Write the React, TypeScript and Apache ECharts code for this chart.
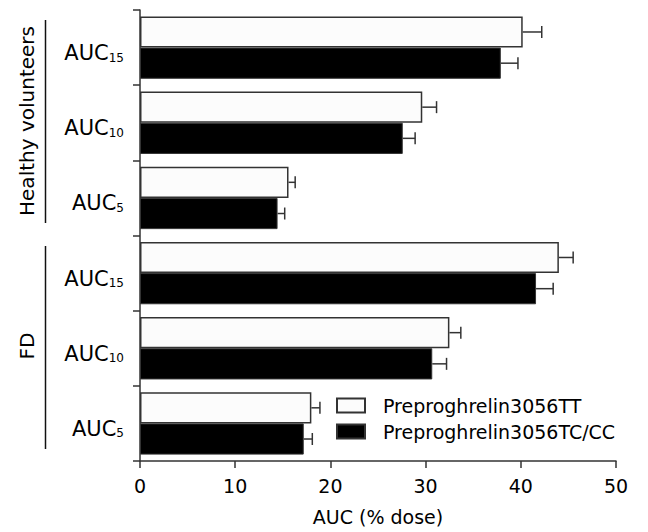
import React, { useEffect, useRef } from "react";
import * as echarts from "echarts";

const categories = ["HV-15", "HV-10", "HV-5", "FD-15", "FD-10", "FD-5"];
const subscripts = ["15", "10", "5", "15", "10", "5"];
const seriesNames = ["Preproghrelin3056TT", "Preproghrelin3056TC/CC"];
const ttValues = [40.2, 29.65, 15.6, 44.0, 32.5, 18.0];
const ttErrors = [2.0, 1.5, 0.7, 1.5, 1.2, 0.9];
const tcValues = [37.9, 27.6, 14.45, 41.6, 30.7, 17.2];
const tcErrors = [1.8, 1.3, 0.75, 1.8, 1.5, 0.9];
const xTicks = { min: 0, max: 50, interval: 10 };
const groupLabels = ["Healthy volunteers", "FD"];

const FONT = "DejaVu Sans";
const GAP = 0.17;

export default function App() {
  const ref = useRef<HTMLDivElement>(null);
  useEffect(() => {
    if (!ref.current) return;
    const chart = echarts.init(ref.current, null, { renderer: "svg" });
    const errData: number[][] = [];
    ttValues.forEach((v, i) => errData.push([v, v + ttErrors[i], i, -1]));
    tcValues.forEach((v, i) => errData.push([v, v + tcErrors[i], i, 1]));

    chart.setOption({
      animation: false,
      textStyle: { fontFamily: FONT, color: "#000" },
      grid: { left: 140, right: 32, top: 10, bottom: 71, containLabel: false },
      legend: {
        data: seriesNames,
        orient: "vertical",
        left: 336,
        top: 396,
        padding: 0,
        itemWidth: 28,
        itemHeight: 14,
        itemGap: 7,
        selectedMode: false,
        icon: "rect",
        textStyle: { fontFamily: FONT, fontSize: 19, color: "#000", padding: [0, 0, 0, 13] },
      },
      xAxis: {
        type: "value",
        min: xTicks.min,
        max: xTicks.max,
        interval: xTicks.interval,
        name: "AUC (% dose)",
        nameLocation: "middle",
        nameGap: 46,
        nameTextStyle: { fontFamily: FONT, fontSize: 19, color: "#000" },
        axisLine: { show: true, lineStyle: { color: "#333", width: 1.5 } },
        axisTick: { show: true, length: 7, lineStyle: { color: "#333", width: 1.5 } },
        axisLabel: { fontFamily: FONT, fontSize: 19, color: "#000", margin: 15 },
        splitLine: { show: false },
      },
      yAxis: {
        type: "category",
        data: categories,
        inverse: true,
        axisLine: { show: true, lineStyle: { color: "#333", width: 1.5 } },
        axisTick: { show: true, length: 7, lineStyle: { color: "#333", width: 1.5 } },
        axisLabel: {
          margin: 16,
          formatter: (_v: string, i: number) => `{m|AUC}{s|${subscripts[i]}}`,
          rich: {
            m: { fontFamily: FONT, fontSize: 21, lineHeight: 32, color: "#000", verticalAlign: "bottom" },
            s: { fontFamily: FONT, fontSize: 12, lineHeight: 12, color: "#000", verticalAlign: "bottom" },
          },
        },
      },
      graphic: [
        {
          type: "text",
          x: 27,
          y: 121,
          rotation: Math.PI / 2,
          style: {
            text: groupLabels[0],
            fontFamily: FONT,
            fontSize: 20,
            fill: "#000",
            textAlign: "center",
            textVerticalAlign: "middle",
          },
        },
        {
          type: "text",
          x: 27,
          y: 346,
          rotation: Math.PI / 2,
          style: {
            text: groupLabels[1],
            fontFamily: FONT,
            fontSize: 20,
            fill: "#000",
            textAlign: "center",
            textVerticalAlign: "middle",
          },
        },
        { type: "line", shape: { x1: 45.5, y1: 20, x2: 45.5, y2: 223 }, style: { stroke: "#111", lineWidth: 1.5 } },
        { type: "line", shape: { x1: 45.5, y1: 246, x2: 45.5, y2: 449 }, style: { stroke: "#111", lineWidth: 1.5 } },
      ],
      series: [
        {
          name: seriesNames[0],
          type: "bar",
          data: ttValues,
          barGap: "0%",
          barCategoryGap: `${GAP * 100}%`,
          itemStyle: { color: "#fcfcfc", borderColor: "#333", borderWidth: 1.5 },
        },
        {
          name: seriesNames[1],
          type: "bar",
          data: tcValues,
          barGap: "0%",
          barCategoryGap: `${GAP * 100}%`,
          itemStyle: { color: "#000", borderColor: "#333", borderWidth: 1 },
        },
        {
          name: "err",
          type: "custom",
          data: errData,
          encode: { x: [0, 1], y: 2 },
          z: 5,
          renderItem: (_p: any, api: any) => {
            const lo = api.value(0);
            const hi = api.value(1);
            const cat = api.value(2);
            const side = api.value(3);
            const a = api.coord([lo, cat]);
            const b = api.coord([hi, cat]);
            const band = api.size([0, 1])[1];
            const barW = (band * (1 - GAP)) / 2;
            const y = a[1] + (side * barW) / 2;
            const st = { stroke: "#333", lineWidth: 1.5 };
            return {
              type: "group",
              children: [
                { type: "line", shape: { x1: a[0], y1: y, x2: b[0], y2: y }, style: st },
                { type: "line", shape: { x1: b[0], y1: y - 6, x2: b[0], y2: y + 6 }, style: st },
              ],
            };
          },
        },
      ],
    });
    return () => chart.dispose();
  }, []);
  return <div ref={ref} style={{ width: 648, height: 532, position: "absolute", left: 0, top: 0 }} />;
}
